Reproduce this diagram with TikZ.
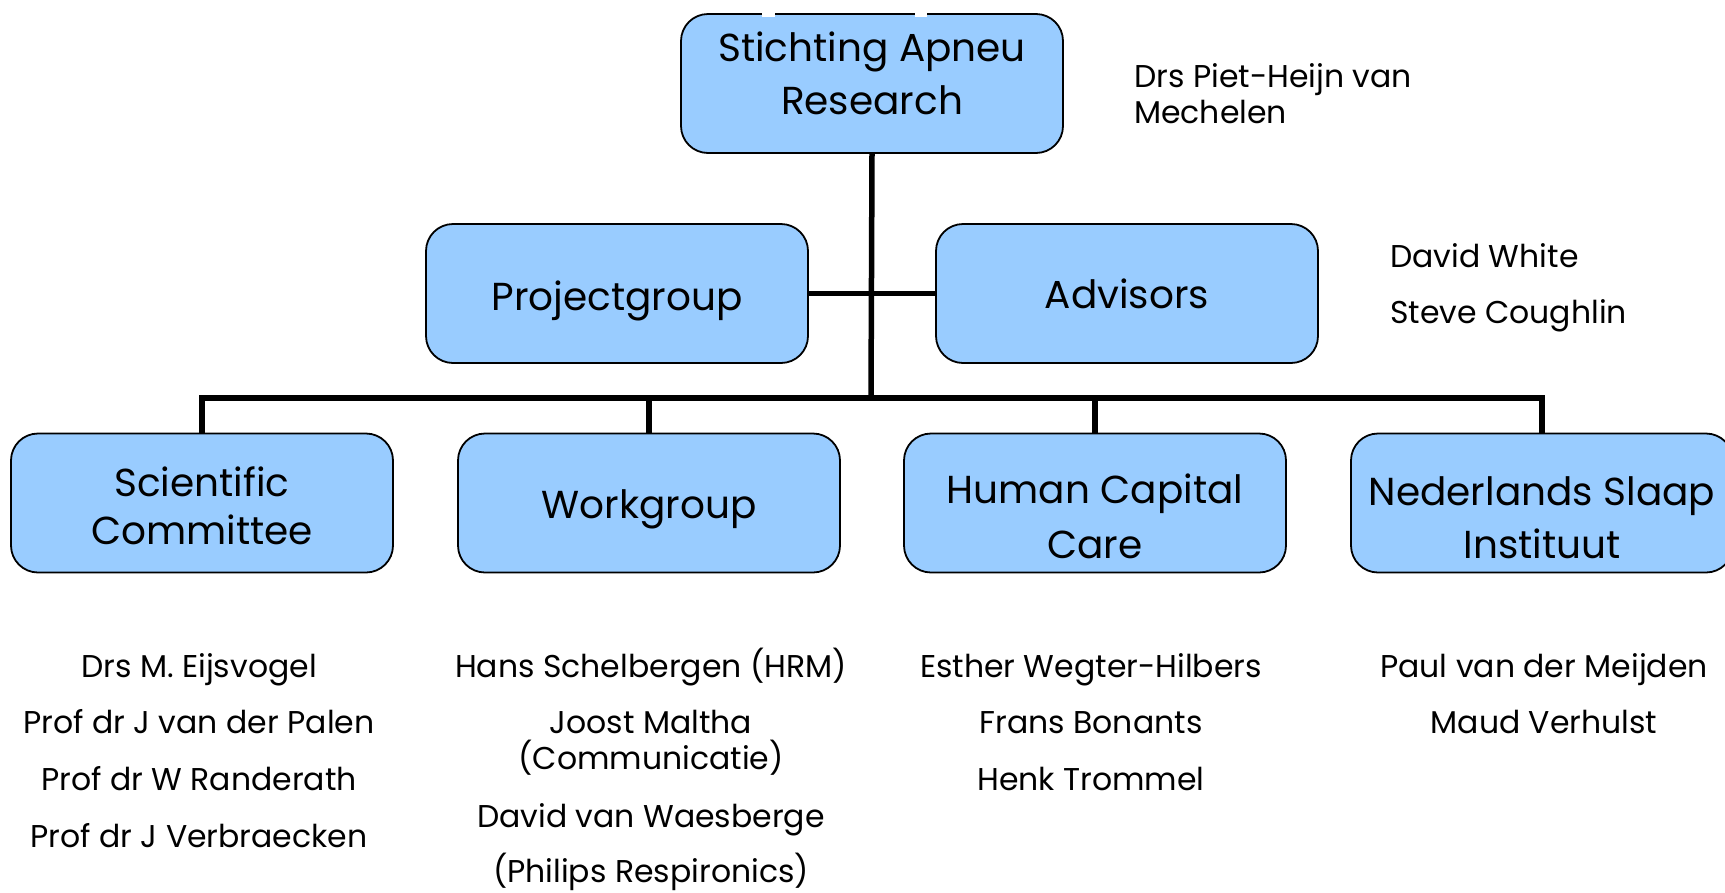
\documentclass[tikz,border=0pt]{standalone}
\usepackage{fontspec}
\setmainfont{Poppins}
\definecolor{boxblue}{HTML}{99CCFF}
\newcommand\bxt[3]{\raisebox{#1}[0pt][0pt]{\fontsize{39}{#2}\selectfont\begin{tabular}[t]{@{}c@{}}#3\end{tabular}}}
\begin{document}
\begin{tikzpicture}[x=1pt,y=-1pt,
  orgbox/.style={draw=black, line width=1.8pt, fill=boxblue, rounded corners=27pt,
    minimum width=382pt, minimum height=139pt, inner sep=0pt},
  person/.style={inner sep=0pt, anchor=base, font=\fontsize{31.5}{36}\selectfont},
  sideperson/.style={person, anchor=base west},
  conn/.style={line width=5.5pt, draw=black}]
\useasboundingbox (0,0) rectangle (1725,892);
\clip (0,0) rectangle (1725,892);
% boxes
\node[orgbox] (top) at (872,83.5) {\bxt{22pt}{53pt}{Stichting Apneu\\Research}};
\node[orgbox] (proj) at (617,293.5) {\bxt{-17pt}{54pt}{Projectgroup}};
\node[orgbox] (adv) at (1127,293.5) {\bxt{-15pt}{54pt}{Advisors}};
\node[orgbox] (sci) at (202,503) {\bxt{7pt}{48pt}{Scientific\\Committee}};
\node[orgbox] (wg) at (649,503) {\bxt{-15.5pt}{54pt}{Workgroup}};
\node[orgbox] (hcc) at (1095,503) {\bxt{0pt}{55pt}{Human Capital\\Care}};
\node[orgbox] (nsi) at (1542,503) {\bxt{-2.5pt}{53pt}{Nederlands Slaap\\Instituut}};
% artifacts on top edge
\fill[white] (762,12) rectangle (775,16.5);
\fill[white] (915,12) rectangle (927,16.5);
% connectors
\coordinate (bus) at (871,398);
\draw[conn] (top.south) -- (bus);
\draw[conn] (proj.east) -- (adv.west);
\draw[conn] (sci.north) |- (bus) -| (nsi.north);
\draw[conn] (wg.north) -- (wg.north |- bus);
\draw[conn] (hcc.north) -- (hcc.north |- bus);
% side texts
\node[sideperson] (piet1) at (1134,87) {Drs Piet-Heijn van};
\node[sideperson] (piet2) at (1134,123) {Mechelen};
\node[sideperson] (dw) at (1390,267) {David White};
\node[sideperson] (sc) at (1390,323) {Steve Coughlin};
% lists
\node[person] (s1) at (199,677) {Drs M. Eijsvogel};
\node[person] (s2) at (199,733) {Prof dr J van der Palen};
\node[person] (s3) at (199,790) {Prof dr W Randerath};
\node[person] (s4) at (199,847) {Prof dr J Verbraecken};
\node[person] (w1) at (651,677) {Hans Schelbergen (HRM)};
\node[person] (w2) at (651,733) {Joost Maltha};
\node[person] (w3) at (651,769) {(Communicatie)};
\node[person] (w4) at (651,827) {David van Waesberge};
\node[person] (w5) at (651,882) {(Philips Respironics)};
\node[person] (h1) at (1091,677) {Esther Wegter-Hilbers};
\node[person] (h2) at (1091,733) {Frans Bonants};
\node[person] (h3) at (1091,790) {Henk Trommel};
\node[person] (n1) at (1544,677) {Paul van der Meijden};
\node[person] (n2) at (1544,733) {Maud Verhulst};
\end{tikzpicture}
\end{document}
